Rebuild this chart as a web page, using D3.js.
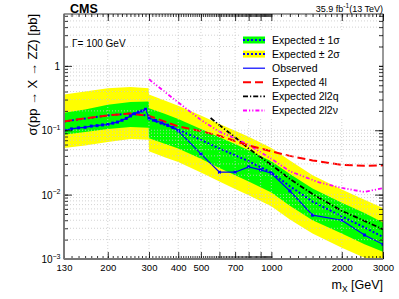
<!DOCTYPE html>
<html lang="en">
<head>
<meta charset="UTF-8">
<title>X to ZZ limits</title>
<script src="https://d3js.org/d3.v7.min.js"></script>
<style>
  body { margin: 0; background: #fff; }
  svg text { font-family: "Liberation Sans", Arial, sans-serif; fill: #000; }
  .tick line { stroke: #000; stroke-width: 0.8; }
  .tick text { font-size: 9.5px; }
  .grid line { stroke: #c8c8c8; stroke-width: 0.8; stroke-dasharray: 1,2; }
</style>
</head>
<body>
<div id="chart"></div>
<script>
// expected limit + bands (the step at 300 GeV is where 2l2q / 2l2v come in)
const bandMass = [130, 160, 200, 250, 299, 300, 350, 400, 500, 600, 700, 800, 1000, 1200, 1500, 2000, 2500, 3000];
const expected = [0.137, 0.152, 0.170, 0.182, 0.168, 0.148, 0.122, 0.102, 0.071, 0.052, 0.041, 0.033, 0.022, 0.0135, 0.0078, 0.0046, 0.0031, 0.0022];
const plus1 = [0.187, 0.21, 0.25, 0.275, 0.279, 0.22, 0.18, 0.15, 0.105, 0.078, 0.061, 0.049, 0.033, 0.021, 0.0125, 0.0075, 0.0052, 0.0037];
const minus1 = [0.085, 0.094, 0.105, 0.112, 0.109, 0.075, 0.062, 0.052, 0.036, 0.026, 0.020, 0.016, 0.0108, 0.0067, 0.0040, 0.0025, 0.0017, 0.0013];
const plus2 = [0.36, 0.40, 0.45, 0.47, 0.45, 0.36, 0.29, 0.24, 0.17, 0.125, 0.098, 0.079, 0.053, 0.034, 0.020, 0.012, 0.0083, 0.0062];
const minus2 = [0.053, 0.058, 0.066, 0.073, 0.071, 0.047, 0.038, 0.032, 0.022, 0.016, 0.0122, 0.0098, 0.0066, 0.0041, 0.0025, 0.0015, 0.00105, 0.0008];

// observed
const obsMass = [130, 140, 150, 160, 170, 180, 190, 200, 210, 220, 230, 240, 250, 260, 270, 280, 290, 300, 320, 340, 360, 380, 400, 500, 600, 700, 800, 900, 1000, 1200, 1500, 2000, 2500, 3000];
const observed = [0.100, 0.105, 0.109, 0.111, 0.116, 0.118, 0.121, 0.123, 0.129, 0.134, 0.143, 0.153, 0.167, 0.181, 0.191, 0.199, 0.212, 0.155, 0.142, 0.130, 0.120, 0.110, 0.098, 0.043, 0.0223, 0.0223, 0.027, 0.0242, 0.0215, 0.0114, 0.0048, 0.0040, 0.00236, 0.00169];

// per-channel expected
const mass4l = [130, 150, 200, 250, 300, 400, 500, 600, 700, 800, 1000, 1200, 1500, 2000, 2500, 3000];
const exp4l = [0.137, 0.148, 0.170, 0.182, 0.167, 0.115, 0.097, 0.082, 0.068, 0.058, 0.047, 0.040, 0.034, 0.029, 0.028, 0.0285];
const mass2l2q = [550, 600, 700, 800, 1000, 1200, 1500, 2000, 2500, 3000];
const exp2l2q = [0.155, 0.12, 0.078, 0.052, 0.029, 0.0175, 0.0102, 0.0056, 0.0039, 0.0029];
const mass2l2v = [300, 400, 500, 600, 700, 800, 1000, 1200, 1600, 2000, 2500, 3000];
const exp2l2v = [0.62, 0.27, 0.145, 0.095, 0.075, 0.059, 0.036, 0.023, 0.0155, 0.0127, 0.011, 0.0126];

// axis labels
const xTickLabels = [130, 200, 300, 400, 500, 700, 1000, 2000, 3000];
const xGridValues = [200, 300, 400, 500, 600, 700, 800, 900, 1000, 2000];
const yDecades = [1e-3, 1e-2, 1e-1, 1];
const yDecadeLabels = [["10", "\u22123"], ["10", "\u22122"], ["10", "\u22121"], ["1", ""]];

const W = 399, H = 299;
const L = 64, R = 383, T = 14, B = 259;

const svg = d3.select("#chart").append("svg").attr("width", W).attr("height", H);

const x = d3.scaleLog().domain([130, 3000]).range([L, R]);
const y = d3.scaleLog().domain([1e-3, 6.4]).range([B, T]);

svg.append("defs").append("clipPath").attr("id", "clip")
  .append("rect").attr("x", L).attr("y", T).attr("width", R - L).attr("height", B - T);

const plot = svg.append("g").attr("clip-path", "url(#clip)");

// bands
const band = (lo, hi) => d3.area()
  .x((d, i) => x(bandMass[i]))
  .y0((d, i) => y(lo[i]))
  .y1((d, i) => y(hi[i]))(bandMass);
plot.append("path").attr("d", band(minus2, plus2)).attr("fill", "#ffff00");
plot.append("path").attr("d", band(minus1, plus1)).attr("fill", "#00ff00");

// grid (drawn over the bands like ROOT does)
let yGrid = [];
yDecades.forEach(d => { for (let k = 1; k <= 9; k++) if (d * k < 6.4) yGrid.push(d * k); });
const grid = svg.append("g").attr("class", "grid");
grid.selectAll(".gx").data(xGridValues).enter().append("line")
  .attr("x1", d => x(d)).attr("x2", d => x(d)).attr("y1", T).attr("y2", B);
grid.selectAll(".gy").data(yGrid).enter().append("line")
  .attr("x1", L).attr("x2", R).attr("y1", d => y(d)).attr("y2", d => y(d));

// lines
const line = (ms, vs) => d3.line().x((d, i) => x(ms[i])).y((d, i) => y(vs[i]))(vs);

plot.append("path").attr("d", line(bandMass, expected))
  .attr("fill", "none").attr("stroke", "#0000ff").attr("stroke-width", 2).attr("stroke-dasharray", "2,2");
plot.append("path").attr("d", line(mass2l2v, exp2l2v))
  .attr("fill", "none").attr("stroke", "#ff00ff").attr("stroke-width", 1.8).attr("stroke-dasharray", "4,2,1.2,2,1.2,2");
plot.append("path").attr("d", line(mass2l2q, exp2l2q))
  .attr("fill", "none").attr("stroke", "#000").attr("stroke-width", 1.8).attr("stroke-dasharray", "5,2,1.2,2");
plot.append("path").attr("d", line(mass4l, exp4l))
  .attr("fill", "none").attr("stroke", "#ff0000").attr("stroke-width", 2).attr("stroke-dasharray", "8,4");
plot.append("path").attr("d", line(obsMass, observed))
  .attr("fill", "none").attr("stroke", "#0000ff").attr("stroke-width", 1.2);
plot.selectAll(".obs").data(observed).enter().append("rect")
  .attr("x", (d, i) => x(obsMass[i]) - 1.5).attr("y", d => y(d) - 1.5)
  .attr("width", 3).attr("height", 3).attr("fill", "#0000ff");

// axes: ticks pointing into the frame
let xMinor = d3.range(130, 1000, 10).concat(d3.range(1000, 3001, 100));
const xMajorTicks = xGridValues.concat([3000]);
const noLabel = () => "";
svg.append("g").attr("transform", `translate(0,${B})`)
  .call(d3.axisBottom(x).tickValues(xMinor).tickSize(-3).tickFormat(noLabel));
svg.append("g").attr("transform", `translate(0,${B})`)
  .call(d3.axisBottom(x).tickValues(xMajorTicks).tickSize(-7).tickFormat(noLabel));
svg.append("g").attr("transform", `translate(0,${T})`)
  .call(d3.axisTop(x).tickValues(xMinor).tickSize(-3).tickFormat(noLabel));
svg.append("g").attr("transform", `translate(0,${T})`)
  .call(d3.axisTop(x).tickValues(xMajorTicks).tickSize(-7).tickFormat(noLabel));
svg.append("g").attr("transform", `translate(0,${B})`)
  .call(d3.axisBottom(x).tickValues(xTickLabels).tickSize(0).tickPadding(5).tickFormat(d3.format("d")));

svg.append("g").attr("transform", `translate(${L},0)`)
  .call(d3.axisLeft(y).tickValues(yGrid).tickSize(-4).tickFormat(noLabel));
svg.append("g").attr("transform", `translate(${L},0)`)
  .call(d3.axisLeft(y).tickValues(yDecades).tickSize(-8).tickFormat(noLabel));
svg.append("g").attr("transform", `translate(${R},0)`)
  .call(d3.axisRight(y).tickValues(yGrid).tickSize(-4).tickFormat(noLabel));
svg.append("g").attr("transform", `translate(${R},0)`)
  .call(d3.axisRight(y).tickValues(yDecades).tickSize(-8).tickFormat(noLabel));
svg.selectAll(".domain").remove();

// y decade labels with superscripts
yDecades.forEach((d, i) => {
  const t = svg.append("text").attr("x", L - 4).attr("y", y(d) + 4)
    .attr("text-anchor", "end").attr("font-size", 10);
  const lab = yDecadeLabels[i];
  if (lab[1]) {
    t.attr("x", L - 3.5);
    t.append("tspan").text(lab[0]);
    t.append("tspan").attr("dy", -4.5).attr("font-size", 7).text(lab[1]);
  } else {
    t.text(lab[0]);
  }
});

// frame
svg.append("rect").attr("x", L).attr("y", T).attr("width", R - L).attr("height", B - T)
  .attr("fill", "none").attr("stroke", "#000").attr("stroke-width", 0.8);
svg.append("line").attr("x1", L).attr("x2", L).attr("y1", T).attr("y2", B)
  .attr("stroke", "#777").attr("stroke-width", 1.8);
svg.append("line").attr("x1", L).attr("x2", R).attr("y1", B).attr("y2", B)
  .attr("stroke", "#777").attr("stroke-width", 1.8);

// titles
svg.append("text").attr("x", 70).attr("y", 12.5).attr("font-size", 12.5).attr("font-weight", "bold").text("CMS");
const lumi = svg.append("text").attr("x", 383).attr("y", 11.5).attr("text-anchor", "end").attr("font-size", 9);
lumi.append("tspan").text("35.9 fb");
lumi.append("tspan").attr("dy", -3.5).attr("font-size", 6.5).text("-1");
lumi.append("tspan").attr("dy", 3.5).text("(13 TeV)");
svg.append("text").attr("x", 72).attr("y", 46.5).attr("font-size", 10).text("\u0393= 100 GeV");

const xl = svg.append("text").attr("x", 383).attr("y", 289).attr("text-anchor", "end").attr("font-size", 12.5);
xl.append("tspan").text("m");
xl.append("tspan").attr("dy", 3).attr("font-size", 8.5).text("X");
xl.append("tspan").attr("dy", -3).text(" [GeV]");

svg.append("text").attr("transform", "translate(37,14) rotate(-90)")
  .attr("text-anchor", "end").attr("font-size", 13)
  .text("\u03c3(pp \u2192 X \u2192 ZZ) [pb]");

// legend
const legendItems = [
  { label: "Expected \u00b1 1\u03c3", fill: "#00ff00", color: "#0000ff", dash: "2,2", w: 2 },
  { label: "Expected \u00b1 2\u03c3", fill: "#ffff00", color: "#0000ff", dash: "2,2", w: 2 },
  { label: "Observed", fill: null, color: "#0000ff", dash: null, w: 1.2 },
  { label: "Expected 4l", fill: null, color: "#ff0000", dash: "8,4", w: 2 },
  { label: "Expected 2l2q", fill: null, color: "#000", dash: "5,2,1.2,2", w: 1.8 },
  { label: "Expected 2l2\u03bd", fill: null, color: "#ff00ff", dash: "4,2,1.2,2,1.2,2", w: 1.8 }
];
const lg = svg.append("g");
lg.append("rect").attr("x", 239).attr("y", 30).attr("width", 140).attr("height", 88).attr("fill", "#fff");
legendItems.forEach((d, i) => {
  const cy = 40 + i * 14.1;
  if (d.fill) {
    lg.append("rect").attr("x", 243).attr("y", cy - 3.5).attr("width", 22).attr("height", 7).attr("fill", d.fill);
  }
  lg.append("line").attr("x1", 243).attr("x2", 265).attr("y1", cy).attr("y2", cy)
    .attr("stroke", d.color).attr("stroke-width", d.w).attr("stroke-dasharray", d.dash);
  lg.append("text").attr("x", 272).attr("y", cy + 3.7).attr("font-size", 10.5).text(d.label);
});
</script>
</body>
</html>
